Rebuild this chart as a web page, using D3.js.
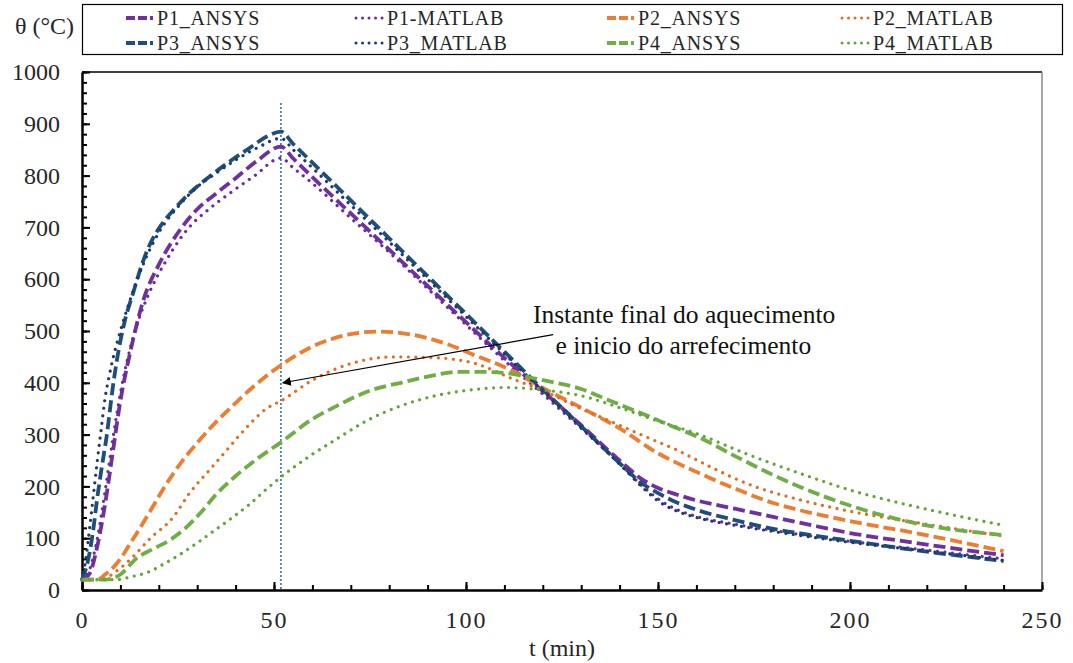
<!DOCTYPE html>
<html>
<head>
<meta charset="utf-8">
<script src="https://cdn.jsdelivr.net/npm/d3@7"></script>
<style>
  body { margin: 0; background: #fff; }
  svg text { font-family: "Liberation Serif", "Times New Roman", "DejaVu Serif", serif !important; }
</style>
</head>
<body>
<svg id="chart" width="1073" height="663"></svg>
<script>
// Temperature histories [t (min), θ (°C)] for the four points, ANSYS vs MATLAB
const p1Ansys = [[0,20],[2,32],[4,85],[6,165],[8,265],[10,365],[12.5,457],[16,560],[20,628],[25.5,695],[30,735],[35,766],[40,795],[45.5,828],[51.8,856],[55,833],[60,797],[70,727],[80,657],[90,587],[100,517],[110,448],[120,384],[130,318],[140,250],[146,213],[150,197],[155,184],[160,173],[170,157],[180,141],[190,125],[200,110],[217,91],[240,67]];
const p1Matlab = [[0,20],[2,40],[4,100],[6,190],[8,290],[10,380],[12,450],[14,505],[17,565],[22,637],[28,701],[33,735],[38.5,766],[45,800],[51.8,834],[55,815],[60,785],[70,718],[80,652],[90,582],[100,512],[110,443],[120,378],[130,312],[140,244],[146,200],[150,176],[155,155],[160,142],[170,127],[180,115],[190,104],[200,94],[220,77],[240,60]];
const p2Ansys = [[0,20],[4,20],[6,30],[8.7,48],[13,95],[17.4,148],[22,205],[26,248],[30.7,290],[35,325],[39,354],[45,395],[51.8,434],[60,470],[70,494],[77,499],[85,494],[95,475],[101,457],[111.5,425],[120,390],[130,352],[140,312],[150,264],[160,228],[171,193],[180,168],[187,154],[200,133],[217,110],[240,75]];
const p2Matlab = [[0,20],[5,20],[8.7,35],[13,62],[17.4,97],[23.8,141],[28,187],[33,230],[37.7,270],[43,315],[48,350],[51.8,365],[60,405],[70,437],[81,450],[90,449],[101,440],[113,405],[120,385],[130,350],[140,318],[148,292],[155,270],[163,240],[174,203],[187,174],[200,152],[220,127],[240,104]];
const p3Ansys = [[0,20],[1.6,58],[3,120],[3.8,168],[5,230],[6.4,296],[8,390],[9,440],[11,515],[13.3,573],[16,637],[18,672],[20.3,701],[24,735],[28,766],[33,797],[39,830],[44,855],[48,875],[51.8,885],[55,861],[60,825],[70,752],[80,679],[90,606],[100,533],[110,460],[120,387],[130,316],[140,245],[146,205],[150,187],[154,172],[160,155],[170,135],[180,118],[190,106],[200,95],[217,77],[240,56]];
const p3Matlab = [[0,20],[1,60],[2,120],[3,185],[4,250],[5,310],[6,370],[7,410],[8,445],[10,500],[13,570],[16,630],[20,690],[25,740],[30,778],[35,805],[40,830],[46,855],[51.8,872],[55,850],[60,815],[70,743],[80,672],[90,600],[100,528],[110,456],[120,384],[130,314],[140,243],[146,198],[150,172],[155,152],[160,140],[170,125],[180,113],[190,102],[200,92],[220,75],[240,57]];
const p4Ansys = [[0,20],[6,20],[10,30],[14,60],[19,81],[23,97],[27,120],[31,150],[35,185],[40,220],[45,250],[51.8,285],[60,330],[66,354],[75,385],[83.6,401],[90,412],[98,421],[105,421],[110,419],[120,405],[130,388],[137,367],[148,334],[154,315],[160,297],[171,255],[180,222],[187,199],[200,163],[217,129],[240,106]];
const p4Matlab = [[0,20],[9,20],[13,26],[17.4,35],[21.7,52],[26,71],[30.4,93],[34.7,116],[39,139],[43.4,164],[47.8,193],[51.8,218],[60,262],[66,290],[75,330],[83.6,357],[92,375],[101,386],[110,391],[114,390],[120,386],[130,375],[140,352],[150,326],[160,302],[174,260],[187,225],[200,193],[217,161],[240,125]];

const seriesNames = ["P1_ANSYS","P1-MATLAB","P2_ANSYS","P2_MATLAB","P3_ANSYS","P3_MATLAB","P4_ANSYS","P4_MATLAB"];
const seriesData = [p1Ansys, p1Matlab, p2Ansys, p2Matlab, p3Ansys, p3Matlab, p4Ansys, p4Matlab];
const seriesColors = ["#7030A0","#6A2C99","#ED7D31","#E46C1F","#1F4E79","#1C3A6E","#70AD47","#62A53A"];
const seriesStyles = ["dash","dot","dash","dot","dash","dot","dash","dot"];

const xTicks = [0, 50, 100, 150, 200, 250];
const yTicks = [0, 100, 200, 300, 400, 500, 600, 700, 800, 900, 1000];
const heatingEnd = 51.8;          // end of the heating phase (min)
const noteLines = ["Instante final do aquecimento", "e inicio do arrefecimento"];

const svg = d3.select("#chart");
const x = d3.scaleLinear().domain([0, 250]).range([82, 1042]);
const y = d3.scaleLinear().domain([0, 1000]).range([590, 72]);

// plot frame: top and right edges
svg.append("line").attr("x1", x(0)).attr("x2", x(250)).attr("y1", y(1000)).attr("y2", y(1000))
  .attr("stroke", "#000").attr("stroke-width", 1.5);
svg.append("line").attr("x1", x(250)).attr("x2", x(250)).attr("y1", y(1000)).attr("y2", y(0))
  .attr("stroke", "#8a8a8a").attr("stroke-width", 1.5);

// minor ticks
svg.append("g").attr("transform", `translate(${x(0)},0)`)
  .call(d3.axisLeft(y).tickValues(d3.range(0, 1001, 20)).tickSize(-5).tickSizeOuter(0).tickFormat(""))
  .call(g => g.select(".domain").remove())
  .call(g => g.selectAll("line").attr("stroke", "#000").attr("stroke-width", 2));
svg.append("g").attr("transform", `translate(0,${y(0)})`)
  .call(d3.axisBottom(x).tickValues(d3.range(0, 251, 10)).tickSize(-5).tickSizeOuter(0).tickFormat(""))
  .call(g => g.select(".domain").remove())
  .call(g => g.selectAll("line").attr("stroke", "#000").attr("stroke-width", 2));

// major axes
const yAxis = svg.append("g").attr("transform", `translate(${x(0)},0)`)
  .call(d3.axisLeft(y).tickValues(yTicks).tickFormat(d3.format("d"))
    .tickSize(-8).tickSizeOuter(0).tickPadding(22));
const xAxis = svg.append("g").attr("transform", `translate(0,${y(0)})`)
  .call(d3.axisBottom(x).tickValues(xTicks).tickFormat(d3.format("d"))
    .tickSize(-8).tickSizeOuter(0).tickPadding(21));
[yAxis, xAxis].forEach(g => {
  g.attr("font-family", null).attr("font-size", null);
  g.select(".domain").attr("stroke", "#000").attr("stroke-width", 2.5);
  g.selectAll(".tick line").attr("stroke", "#000").attr("stroke-width", 2);
  g.selectAll("text").attr("font-size", 24).attr("fill", "#262626");
});
xAxis.selectAll("text").attr("letter-spacing", 2);

// axis titles
svg.append("text").attr("x", 15).attr("y", 34).attr("font-size", 24).attr("fill", "#262626").text("θ (°C)");
svg.append("text").attr("x", 562).attr("y", 656).attr("text-anchor", "middle")
  .attr("font-size", 24).attr("fill", "#262626").text("t (min)");

// end-of-heating marker
svg.append("line").attr("x1", x(heatingEnd)).attr("x2", x(heatingEnd))
  .attr("y1", y(940)).attr("y2", y(0))
  .attr("stroke", "#2E75B6").attr("stroke-width", 1.6).attr("stroke-dasharray", "2,2");

// series lines
const line = d3.line().x(d => x(d[0])).y(d => y(d[1])).curve(d3.curveMonotoneX);
const styleOf = s => s === "dash"
  ? { w: 3.8, dash: "12,5", cap: "butt" }
  : { w: 3.2, dash: "0.01,7.5", cap: "round" };

seriesData.forEach((data, i) => {
  const st = styleOf(seriesStyles[i]);
  svg.append("path").datum(data).attr("d", line)
    .attr("fill", "none").attr("stroke", seriesColors[i])
    .attr("stroke-width", st.w).attr("stroke-dasharray", st.dash)
    .attr("stroke-linecap", st.cap).attr("stroke-linejoin", "round");
});

// annotation with arrow
const defs = svg.append("defs");
defs.append("marker").attr("id", "arrowHead").attr("viewBox", "0 0 10 10")
  .attr("refX", 9).attr("refY", 5).attr("markerWidth", 9).attr("markerHeight", 9)
  .attr("markerUnits", "userSpaceOnUse").attr("orient", "auto")
  .append("path").attr("d", "M0,0 L10,5 L0,10 z").attr("fill", "#000");
svg.append("line").attr("x1", x(122.7)).attr("y1", y(493)).attr("x2", x(52.3)).attr("y2", y(400))
  .attr("stroke", "#000").attr("stroke-width", 1.1).attr("marker-end", "url(#arrowHead)");
svg.append("text").attr("x", x(156.8)).attr("y", y(515)).attr("text-anchor", "middle")
  .attr("font-size", 25.5).attr("fill", "#111").text(noteLines[0]);
svg.append("text").attr("x", x(156.6)).attr("y", y(455)).attr("text-anchor", "middle")
  .attr("font-size", 25.5).attr("fill", "#111").text(noteLines[1]);

// legend
const legend = svg.append("g");
legend.append("rect").attr("x", 82.5).attr("y", 4.5).attr("width", 980).attr("height", 50)
  .attr("fill", "#fff").attr("stroke", "#000").attr("stroke-width", 1.2);
const colX = [126, 356, 607, 842];
const rowY = [18, 43];
seriesNames.forEach((name, i) => {
  const cx = colX[i % 4], cy = rowY[Math.floor(i / 4)];
  const dashed = seriesStyles[i] === "dash";
  legend.append("line").attr("x1", cx).attr("x2", cx + 30).attr("y1", cy).attr("y2", cy)
    .attr("stroke", seriesColors[i]).attr("stroke-width", dashed ? 3.8 : 3)
    .attr("stroke-dasharray", dashed ? "9,3,9,3,3" : "0.01,6.5")
    .attr("stroke-linecap", dashed ? "butt" : "round");
  legend.append("text").attr("x", cx + 31).attr("y", cy).attr("dy", "0.33em")
    .attr("font-size", 20).attr("letter-spacing", 0.8).attr("fill", "#262626").text(name);
});
</script>
</body>
</html>
